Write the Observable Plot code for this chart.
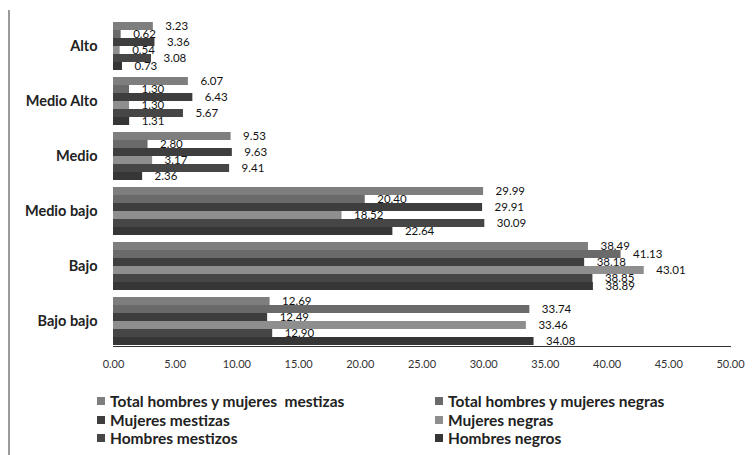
<!DOCTYPE html>
<html>
<head>
<meta charset="utf-8">
<script src="https://cdn.jsdelivr.net/npm/d3@7"></script>
<script src="https://cdn.jsdelivr.net/npm/@observablehq/plot@0.6"></script>
<style>
  html, body { margin: 0; padding: 0; background: #fff; }
  #wrap { position: relative; width: 755px; height: 455px; overflow: hidden; font-family: Lato, "Open Sans", sans-serif; }
  #border { position: absolute; left: 8px; top: 10px; width: 2px; height: 445px; background: #9a9a9a; }
  #chart { position: absolute; left: 0; top: 0; }
  #chart svg path.domain { stroke: #9a9a9a; }
  #chart g[aria-label^="fy-axis"] text { font-weight: bold; font-size: 14.5px; fill: #222; }
  #chart g[aria-label^="x-axis"] text { font-size: 11px; fill: #333; }
  .legend { position: absolute; font-weight: bold; font-size: 15.5px; color: #222; white-space: nowrap; line-height: 18.5px; }
  .legend .item { display: flex; align-items: center; }
  .legend .sw { width: 8px; height: 8px; margin-right: 5px; display: inline-block; }
</style>
</head>
<body>
<div id="wrap">
  <div id="border"></div>
  <div id="chart"></div>
  <div class="legend" id="leg1" style="left:97px; top:392px;"></div>
  <div class="legend" id="leg2" style="left:435px; top:392px;"></div>
</div>
<script>
const categories = ["Alto", "Medio Alto", "Medio", "Medio bajo", "Bajo", "Bajo bajo"];
const seriesNames = [
  "Total hombres y mujeres  mestizas",
  "Total hombres y mujeres negras",
  "Mujeres mestizas",
  "Mujeres negras",
  "Hombres mestizos",
  "Hombres negros"
];
const totalMestizas = [3.23, 6.07, 9.53, 29.99, 38.49, 12.69];
const totalNegras   = [0.62, 1.30, 2.80, 20.40, 41.13, 33.74];
const mujeresMestizas = [3.36, 6.43, 9.63, 29.91, 38.18, 12.49];
const mujeresNegras   = [0.54, 1.30, 3.17, 18.52, 43.01, 33.46];
const hombresMestizos = [3.08, 5.67, 9.41, 30.09, 38.85, 12.90];
const hombresNegros   = [0.73, 1.31, 2.36, 22.64, 38.89, 34.08];
const seriesColors = ["#7e7e7e", "#6a6a6a", "#3e3e3e", "#8e8e8e", "#464646", "#363636"];
const xTicks = [0, 5, 10, 15, 20, 25, 30, 35, 40, 45, 50];

const seriesValues = [totalMestizas, totalNegras, mujeresMestizas, mujeresNegras, hombresMestizos, hombresNegros];
const rows = [];
seriesNames.forEach((s, si) => {
  categories.forEach((c, ci) => {
    rows.push({cat: c, series: s, value: seriesValues[si][ci]});
  });
});

const plot = Plot.plot({
  width: 755,
  height: 385,
  marginLeft: 113,
  marginRight: 25,
  marginTop: 17,
  marginBottom: 35,
  style: {fontFamily: "Lato, 'Open Sans', sans-serif", color: "#333", background: "transparent"},
  facet: {data: rows, y: "cat"},
  fy: {domain: categories, paddingInner: 0.07, paddingOuter: 0.035, label: null, tickSize: 0, tickPadding: 16, line: true},
  y: {domain: seriesNames, padding: 0, axis: null},
  x: {domain: [0, 50], ticks: xTicks, tickFormat: d3.format(".2f"), tickSize: 0, tickPadding: 14, label: null, line: true},
  color: {domain: seriesNames, range: seriesColors},
  marks: [
    Plot.barX(rows, {x: "value", y: "series", fill: "series"}),
    Plot.barX(rows, {x1: "value", x2: "value", y: "series", fill: "white", insetLeft: 3, insetRight: -42}),
    Plot.text(rows, {x: "value", y: "series", text: d => d.value.toFixed(2), dx: 12, textAnchor: "start", fontSize: 11.5, fill: "#111"})
  ]
});
document.getElementById("chart").appendChild(plot);

function legend(el, idx) {
  const node = document.getElementById(el);
  idx.forEach(i => {
    const d = document.createElement("div");
    d.className = "item";
    const sw = document.createElement("span");
    sw.className = "sw";
    sw.style.background = seriesColors[i];
    const t = document.createElement("span");
    t.textContent = seriesNames[i];
    t.style.whiteSpace = "pre";
    d.appendChild(sw); d.appendChild(t);
    node.appendChild(d);
  });
}
legend("leg1", [0, 2, 4]);
legend("leg2", [1, 3, 5]);
</script>
</body>
</html>
